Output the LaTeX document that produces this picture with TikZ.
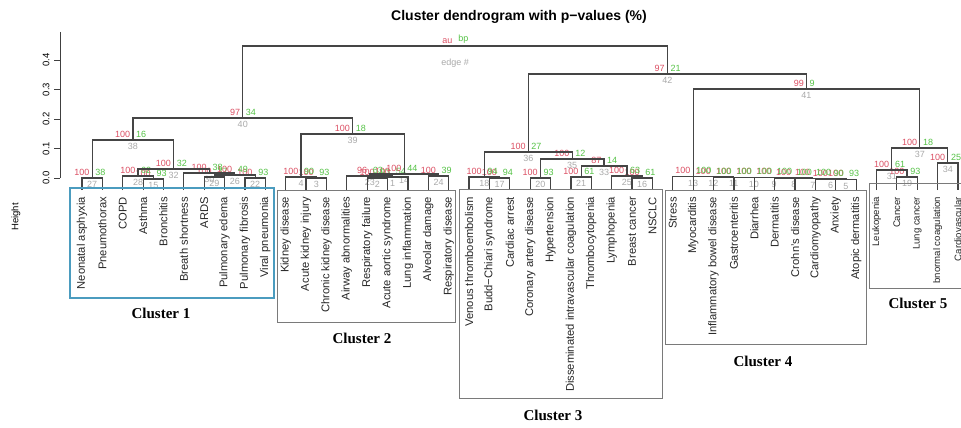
\documentclass[tikz,border=0pt]{standalone}
\usepackage{fontspec}
\setmainfont{Liberation Sans}
\newfontfamily\clusterfont{Liberation Serif}
\usepackage{xcolor}
\usepackage{tikz}

\definecolor{aured}{HTML}{DB4F63}
\definecolor{bpgreen}{HTML}{55C246}
\definecolor{edgegray}{HTML}{A9A9A9}
\definecolor{branchgray}{HTML}{454545}
\definecolor{boxgray}{HTML}{7A7A7A}
\definecolor{clusterblue}{HTML}{4B9CBF}

\begin{document}
\begin{tikzpicture}[x=1pt, y=-1pt]
    % Define styles
    \tikzset{
        leaf/.style={rotate=90, anchor=east, inner sep=0pt, outer xsep=7pt, text=black!85, font=\fontsize{11.2}{12}\selectfont},
        smallleaf/.style={leaf, font=\fontsize{9.6}{10}\selectfont},
        branch/.style={draw=branchgray, line width=1.2pt},
        pvnum/.style={inner sep=0pt, font=\fontsize{9}{9}\selectfont},
        aulabel/.style={pvnum, text=aured, anchor=south east, xshift=-2.5pt, yshift=2.5pt},
        bplabel/.style={pvnum, text=bpgreen, anchor=south west, xshift=3pt, yshift=2.5pt},
        edgelabel/.style={pvnum, text=edgegray, anchor=north, yshift=-3.5pt},
        pv/.style n args={3}{label={[aulabel]90:#1}, label={[bplabel]90:#2}, label={[edgelabel]90:#3}},
        clusterbox/.style={draw=boxgray, line width=1pt},
        clustername/.style={font=\clusterfont\bfseries\fontsize{15}{15}\selectfont},
        axis/.style={draw=black!75, line width=0.8pt},
        ticklabel/.style={rotate=90, inner sep=0pt, font=\fontsize{9.5}{10}\selectfont},
        title/.style={font=\bfseries\fontsize{14}{14}\selectfont}
    }
    \useasboundingbox (0,0) rectangle (961,428);
    \clip (0,0) rectangle (961,428);

    % Title and axis
    \node [title] (title) at (519,17) {Cluster dendrogram with p−values (\%)};
    \node [ticklabel] (height) at (16,217) {Height};
    \draw [axis] (60,32) -- (60,178);
    \draw [axis] (54,178) -- (60,178) (54,148.5) -- (60,148.5) (54,119) -- (60,119) (54,89.5) -- (60,89.5) (54,60) -- (60,60);
    \node [ticklabel] (tick0) at (46,178) {0.0};
    \node [ticklabel] (tick1) at (46,148.5) {0.1};
    \node [ticklabel] (tick2) at (46,119) {0.2};
    \node [ticklabel] (tick3) at (46,89.5) {0.3};
    \node [ticklabel] (tick4) at (46,60) {0.4};

    % Create leaves
    \node [leaf] (neonatal) at (82.00,190) {Neonatal asphyxia};
    \node [leaf] (pneumothorax) at (102.37,190) {Pneumothorax};
    \node [leaf] (copd) at (122.74,190) {COPD};
    \node [leaf] (asthma) at (143.12,190) {Asthma};
    \node [leaf] (bronchitis) at (163.49,190) {Bronchitis};
    \node [leaf] (breath) at (183.86,190) {Breath shortness};
    \node [leaf] (ards) at (204.23,190) {ARDS};
    \node [leaf] (edema) at (224.60,190) {Pulmonary edema};
    \node [leaf] (fibrosis) at (244.98,190) {Pulmonary fibrosis};
    \node [leaf] (viral) at (265.35,190) {Viral pneumonia};
    \node [leaf] (kidney) at (285.72,190) {Kidney disease};
    \node [leaf] (aki) at (306.09,190) {Acute kidney injury};
    \node [leaf] (ckd) at (326.47,190) {Chronic kidney disease};
    \node [leaf] (airway) at (346.84,190) {Airway abnormalities};
    \node [leaf] (respfail) at (367.21,190) {Respiratory failure};
    \node [leaf] (aortic) at (387.58,190) {Acute aortic syndrome};
    \node [leaf] (lunginfl) at (407.95,190) {Lung inflammation};
    \node [leaf] (alveolar) at (428.33,190) {Alveolar damage};
    \node [leaf] (respdis) at (448.70,190) {Respiratory disease};
    \node [leaf] (vte) at (469.07,190) {Venous thromboembolism};
    \node [leaf] (buddchiari) at (489.44,190) {Budd−Chiari syndrome};
    \node [leaf] (cardarrest) at (509.81,190) {Cardiac arrest};
    \node [leaf] (cad) at (530.19,190) {Coronary artery disease};
    \node [leaf] (hypertension) at (550.56,190) {Hypertension};
    \node [leaf] (dic) at (570.93,190) {Disseminated intravascular coagulation};
    \node [leaf] (thrombocyt) at (591.30,190) {Thrombocytopenia};
    \node [leaf] (lymphopenia) at (611.67,190) {Lymphopenia};
    \node [leaf] (breastca) at (632.05,190) {Breast cancer};
    \node [leaf] (nsclc) at (652.42,190) {NSCLC};
    \node [leaf] (stress) at (672.79,190) {Stress};
    \node [leaf] (myocarditis) at (693.16,190) {Myocarditis};
    \node [leaf] (ibd) at (713.53,190) {Inflammatory bowel disease};
    \node [leaf] (gastro) at (733.91,190) {Gastroenteritis};
    \node [leaf] (diarrhea) at (754.28,190) {Diarrhea};
    \node [leaf] (dermatitis) at (774.65,190) {Dermatitis};
    \node [leaf] (crohn) at (795.02,190) {Crohn's disease};
    \node [leaf] (cardiomyo) at (815.40,190) {Cardiomyopathy};
    \node [leaf] (anxiety) at (835.77,190) {Anxiety};
    \node [leaf] (atopic) at (856.14,190) {Atopic dermatitis};
    \node [smallleaf] (leukopenia) at (876.51,190) {Leukopenia};
    \node [smallleaf] (cancer) at (896.88,190) {Cancer};
    \node [smallleaf] (lungca) at (917.26,190) {Lung cancer};
    \node [smallleaf] (abncoag) at (937.63,190) {bnormal coagulation};
    \node [smallleaf] (cardiovasc) at (958.00,190) {Cardiovascular};

    % Create merges (au, bp, edge #)
    \coordinate [pv={100}{38}{27}] (e27) at (92.19,178);
    \coordinate [pv={100}{93}{15}] (e15) at (153.30,179);
    \coordinate [pv={100}{62}{28}] (e28) at (138.02,176);
    \coordinate [pv={100}{37}{29}] (e29) at (214.42,177);
    \coordinate [pv={100}{93}{22}] (e22) at (255.16,178);
    \coordinate [pv={100}{49}{26}] (e26) at (234.79,175);
    \coordinate [pv={100}{38}{30}] (e30) at (209.33,173);
    \coordinate [pv={100}{32}{32}] (e32) at (173.67,169);
    \coordinate [pv={100}{16}{38}] (e38) at (132.93,140);

    \coordinate [pv={100}{93}{3}] (e3) at (316.28,178);
    \coordinate [pv={100}{90}{4}] (e4) at (301.00,177);
    \coordinate [pv={100}{93}{2}] (e2) at (377.40,178);
    \coordinate [pv={100}{54}{1}] (e1) at (392.68,177);
    \coordinate [pv={96}{63}{23}] (e23) at (369.76,176);
    \coordinate [pv={100}{39}{24}] (e24) at (438.51,176);
    \coordinate [pv={100}{44}{14}] (e14) at (404.14,174);
    \coordinate [pv={100}{18}{39}] (e39) at (352.57,134);

    \coordinate [pv={100}{94}{17}] (e17) at (499.63,178);
    \coordinate [pv={100}{94}{18}] (e18) at (484.35,177);
    \coordinate [pv={100}{93}{20}] (e20) at (540.37,178);
    \coordinate [pv={100}{61}{21}] (e21) at (581.12,177);
    \coordinate [pv={100}{61}{16}] (e16) at (642.23,178);
    \coordinate [pv={100}{63}{25}] (e25) at (626.95,176);
    \coordinate [pv={87}{14}{33}] (e33) at (604.03,166);
    \coordinate [pv={100}{12}{35}] (e35) at (572.20,159);
    \coordinate [pv={100}{27}{36}] (e36) at (528.28,152);

    \coordinate [pv={100}{93}{5}] (e5) at (845.95,179.5);
    \coordinate [pv={100}{90}{6}] (e6) at (830.68,179);
    \coordinate [pv={100}{100}{7}] (e7) at (812.85,178.5);
    \coordinate [pv={100}{100}{8}] (e8) at (793.75,178);
    \coordinate [pv={100}{100}{9}] (e9) at (774.01,177.7);
    \coordinate [pv={100}{100}{10}] (e10) at (753.96,177.4);
    \coordinate [pv={100}{100}{11}] (e11) at (733.75,177.1);
    \coordinate [pv={100}{100}{12}] (e12) at (713.45,176.8);
    \coordinate [pv={100}{100}{13}] (e13) at (693.12,176.5);

    \coordinate [pv={100}{93}{19}] (e19) at (907.07,177);
    \coordinate [pv={100}{61}{31}] (e31) at (891.79,170);
    \coordinate [pv={100}{25}{34}] (e34) at (947.81,163);
    \coordinate [pv={100}{18}{37}] (e37) at (919.80,148);

    \coordinate [pv={97}{34}{40}] (e40) at (242.75,118);
    \coordinate [pv={99}{9}{41}] (e41) at (806.46,89);
    \coordinate [pv={97}{21}{42}] (e42) at (667.37,74);
    \coordinate [label={[aulabel]90:au}, label={[bplabel]90:bp}, label={[edgelabel, yshift=-9pt]90:edge \#}] (e43) at (455.06,46);

    % Create branches
    \draw [branch] (neonatal) |- (e27) -| (pneumothorax);
    \draw [branch] (asthma) |- (e15) -| (bronchitis);
    \draw [branch] (copd) |- (e28) -| (e15);
    \draw [branch] (ards) |- (e29) -| (edema);
    \draw [branch] (fibrosis) |- (e22) -| (viral);
    \draw [branch] (e29) |- (e26) -| (e22);
    \draw [branch] (breath) |- (e30) -| (e26);
    \draw [branch] (e28) |- (e32) -| (e30);
    \draw [branch] (e27) |- (e38) -| (e32);

    \draw [branch] (aki) |- (e3) -| (ckd);
    \draw [branch] (kidney) |- (e4) -| (e3);
    \draw [branch] (respfail) |- (e2) -| (aortic);
    \draw [branch] (e2) |- (e1) -| (lunginfl);
    \draw [branch] (airway) |- (e23) -| (e1);
    \draw [branch] (alveolar) |- (e24) -| (respdis);
    \draw [branch] (e23) |- (e14) -| (e24);
    \draw [branch] (e4) |- (e39) -| (e14);

    \draw [branch] (buddchiari) |- (e17) -| (cardarrest);
    \draw [branch] (vte) |- (e18) -| (e17);
    \draw [branch] (cad) |- (e20) -| (hypertension);
    \draw [branch] (dic) |- (e21) -| (thrombocyt);
    \draw [branch] (breastca) |- (e16) -| (nsclc);
    \draw [branch] (lymphopenia) |- (e25) -| (e16);
    \draw [branch] (e21) |- (e33) -| (e25);
    \draw [branch] (e20) |- (e35) -| (e33);
    \draw [branch] (e18) |- (e36) -| (e35);

    \draw [branch] (anxiety) |- (e5) -| (atopic);
    \draw [branch] (cardiomyo) |- (e6) -| (e5);
    \draw [branch] (crohn) |- (e7) -| (e6);
    \draw [branch] (dermatitis) |- (e8) -| (e7);
    \draw [branch] (diarrhea) |- (e9) -| (e8);
    \draw [branch] (gastro) |- (e10) -| (e9);
    \draw [branch] (ibd) |- (e11) -| (e10);
    \draw [branch] (myocarditis) |- (e12) -| (e11);
    \draw [branch] (stress) |- (e13) -| (e12);

    \draw [branch] (cancer) |- (e19) -| (lungca);
    \draw [branch] (leukopenia) |- (e31) -| (e19);
    \draw [branch] (abncoag) |- (e34) -| (cardiovasc);
    \draw [branch] (e31) |- (e37) -| (e34);

    \draw [branch] (e38) |- (e40) -| (e39);
    \draw [branch] (e13) |- (e41) -| (e37);
    \draw [branch] (e36) |- (e42) -| (e41);
    \draw [branch] (e40) |- (e43) -| (e42);

    % Add cluster boxes
    \draw [clusterbox, draw=clusterblue, line width=2.6pt] (70,188) rectangle (274,298);
    \draw [clusterbox] (277,190) rectangle (455,322);
    \draw [clusterbox] (459,189) rectangle (662,398);
    \draw [clusterbox] (665,190) rectangle (866,344);
    \draw [clusterbox] (869,183) rectangle (975,288);
    \node [clustername] (cluster1) at (161,313) {Cluster 1};
    \node [clustername] (cluster2) at (362,338) {Cluster 2};
    \node [clustername] (cluster3) at (553,415) {Cluster 3};
    \node [clustername] (cluster4) at (763,361) {Cluster 4};
    \node [clustername] (cluster5) at (918,303) {Cluster 5};
\end{tikzpicture}
\end{document}
